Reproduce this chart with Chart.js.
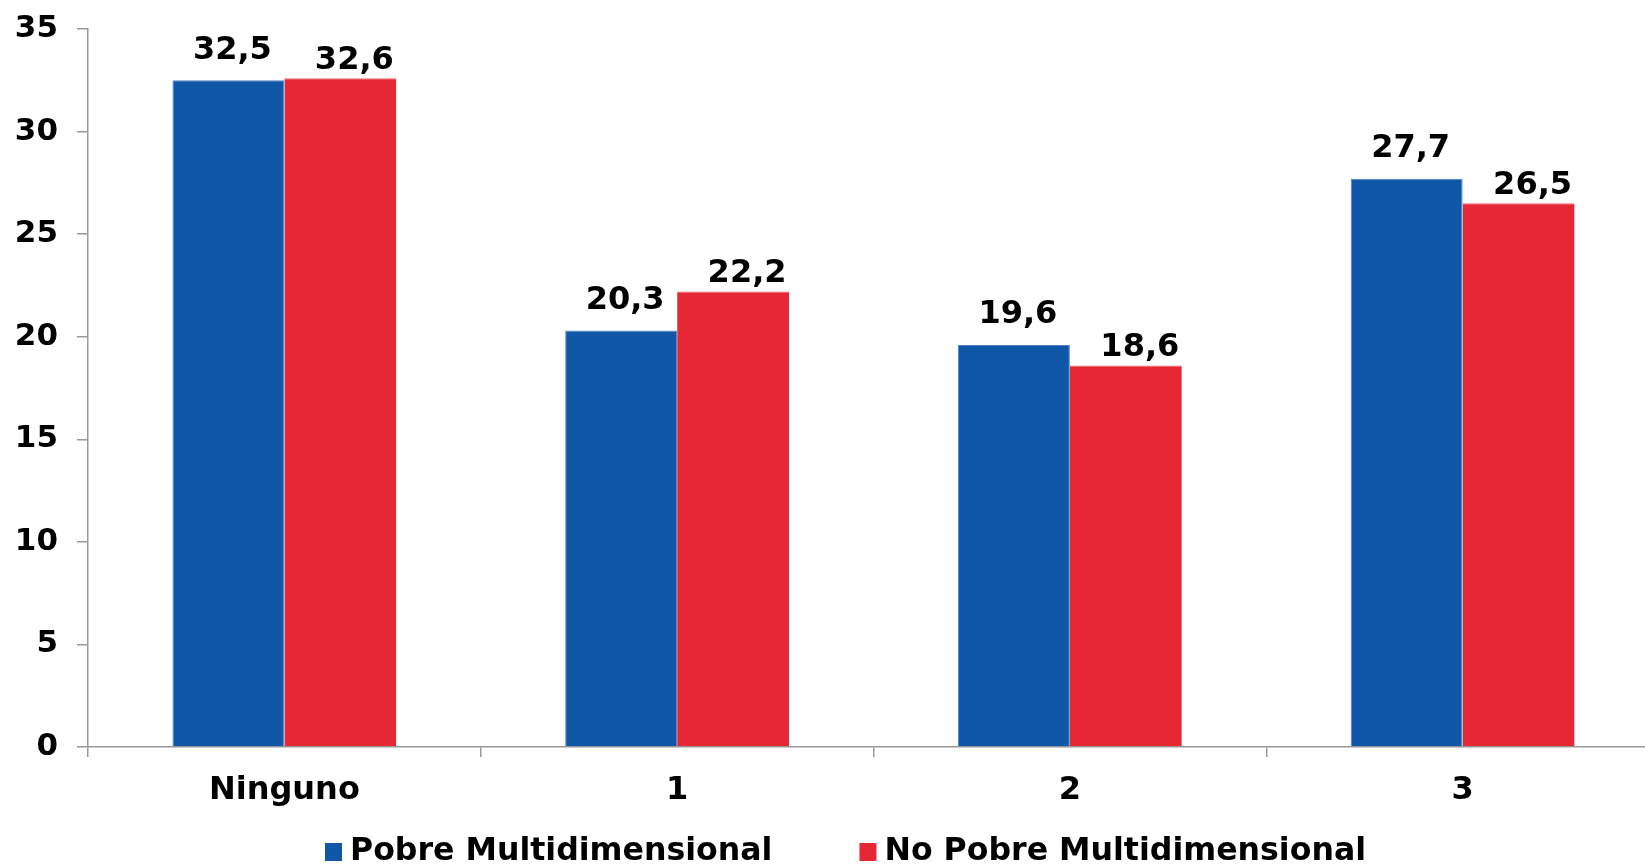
<!DOCTYPE html>
<html>
<head>
<meta charset="utf-8">
<script src="https://cdn.jsdelivr.net/npm/chart.js@4/dist/chart.umd.min.js"></script>
<style>
html,body{margin:0;padding:0;background:#fff;overflow:hidden;width:1645px;height:866px}
#wrap{position:absolute;left:0;top:0;width:1700px;height:866px}
</style>
</head>
<body>
<div id="wrap"><canvas id="chart"></canvas></div>
<script>
// datos del gráfico
const categories=['Ninguno','1','2','3'];
const pobre=[32.5,20.3,19.6,27.7];
const noPobre=[32.6,22.2,18.6,26.5];
const yTicks=[0,5,10,15,20,25,30,35];

const FONT='"DejaVu Sans", Verdana, sans-serif';
const AXIS='#999999';

// etiquetas encima de las barras
const barLabels={
  id:'barLabels',
  afterDatasetsDraw(chart){
    const ctx=chart.ctx;
    ctx.save();
    ctx.font='bold 32px '+FONT;
    ctx.fillStyle='#000';
    ctx.textAlign='center';
    ctx.textBaseline='middle';
    chart.data.datasets.forEach((ds,i)=>{
      const meta=chart.getDatasetMeta(i);
      const off=ds.labelOffset||{dx:0,dy:28};
      meta.data.forEach((bar,j)=>{
        const txt=ds.data[j].toFixed(1).replace('.',',');
        ctx.fillText(txt,bar.x+off.dx,bar.y-off.dy);
      });
    });
    ctx.restore();
  }
};

// leyenda abajo, dibujada a mano
const bottomLegend={
  id:'bottomLegend',
  afterDraw(chart){
    const ctx=chart.ctx;
    ctx.save();
    ctx.font='bold 31.6px '+FONT;
    ctx.textAlign='left';
    ctx.textBaseline='middle';
    let x=325;const y=852;
    chart.data.datasets.forEach(ds=>{
      ctx.fillStyle=ds.backgroundColor;
      ctx.fillRect(x,y-9,17,18);
      ctx.fillStyle='#000';
      ctx.fillText(ds.label,x+25,y);
      x+=25+ctx.measureText(ds.label).width+87;
    });
    ctx.restore();
  }
};

new Chart(document.getElementById('chart').getContext('2d'),{
  type:'bar',
  data:{labels:categories,datasets:[
    {label:'Pobre Multidimensional',data:pobre,backgroundColor:'#1057A8',borderColor:'#4f86c6',borderWidth:{top:1,right:1,left:1,bottom:0},labelOffset:{dx:4,dy:30}},
    {label:'No Pobre Multidimensional',data:noPobre,backgroundColor:'#E62835',borderColor:'#ef6770',borderWidth:{top:1,right:0,left:0,bottom:0},labelOffset:{dx:14,dy:18}},
  ]},
  options:{
    responsive:true,maintainAspectRatio:false,animation:false,
    datasets:{bar:{barPercentage:1,categoryPercentage:0.57}},
    layout:{padding:{left:0,right:41,top:29,bottom:59}},
    plugins:{
      tooltip:{enabled:false},
      legend:{display:false}
    },
    scales:{
      x:{
        grid:{display:true,drawOnChartArea:false,drawTicks:true,tickLength:10,color:AXIS,lineWidth:1.5},
        border:{display:true,color:AXIS,width:1.5},
        ticks:{color:'#000',padding:14,font:{family:FONT,size:32,weight:'bold'}},
        afterFit(s){s.height=60;}
      },
      y:{
        min:0,max:35,
        afterBuildTicks(s){s.ticks=yTicks.map(v=>({value:v}));},
        grid:{display:true,drawOnChartArea:false,drawTicks:true,tickLength:11,color:AXIS,lineWidth:1.5},
        border:{display:true,color:AXIS,width:1.5},
        ticks:{color:'#000',padding:19,font:{family:FONT,size:31,weight:'bold'}},
        afterFit(s){s.width=88;s.paddingTop=0;s.paddingBottom=0;}
      }
    }
  },
  plugins:[barLabels,bottomLegend]
});
</script>
</body>
</html>
